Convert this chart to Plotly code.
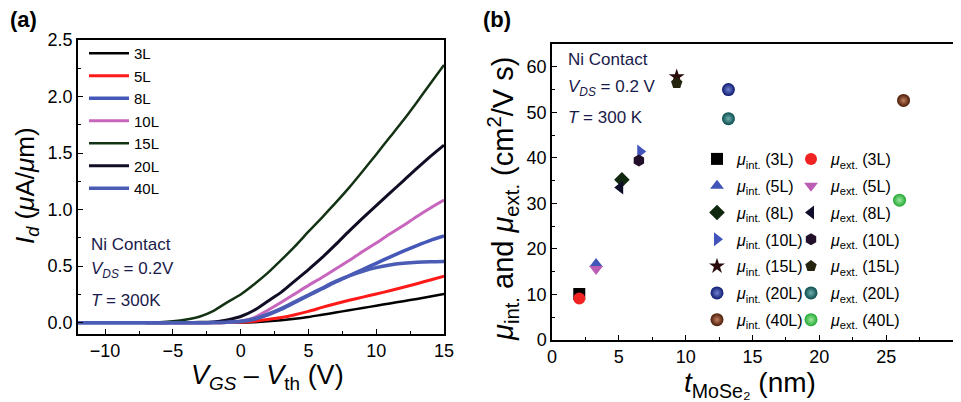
import plotly.graph_objects as go

# ---------------- Panel (a) data: Id (uA/um) vs VGS - Vth (V) ----------------
vgs = [-12, -10, -8, -7, -6, -5, -4, -3, -2, -1, 0, 1, 2, 3, 4, 5, 6, 7, 8, 9, 10, 11, 12, 13, 14, 15]
id_3L = [None, None, None, None, None, None, 0.0, 0.0, 0.0, 0.0, 0.001, 0.005, 0.012, 0.022, 0.035, 0.05,
         0.07, 0.09, 0.11, 0.13, 0.15, 0.17, 0.19, 0.21, 0.232, 0.254]
id_5L = [None, None, None, None, None, 0.0, 0.0, 0.0, 0.0, 0.001, 0.003, 0.013, 0.028, 0.045, 0.07, 0.10,
         0.135, 0.168, 0.198, 0.226, 0.254, 0.283, 0.313, 0.345, 0.378, 0.412]
id_8L = [0.0, 0.0, 0.0, 0.0, 0.0, 0.0, 0.0, 0.0, 0.001, 0.004, 0.01, 0.03, 0.07, 0.12, 0.18, 0.24,
         0.30, 0.36, 0.415, 0.47, 0.525, 0.58, 0.632, 0.682, 0.728, 0.767]
id_10L = [None, None, None, None, 0.0, 0.0, 0.0, 0.0, 0.001, 0.004, 0.012, 0.045, 0.11, 0.18, 0.255, 0.33,
          0.40, 0.475, 0.55, 0.63, 0.705, 0.785, 0.86, 0.94, 1.015, 1.085]
id_15L = [None, None, 0.0, 0.001, 0.004, 0.012, 0.028, 0.055, 0.105, 0.18, 0.25, 0.34, 0.44, 0.555, 0.675, 0.805,
          0.93, 1.06, 1.195, 1.34, 1.488, 1.64, 1.79, 1.95, 2.115, 2.28]
id_20L = [None, None, None, 0.0, 0.0, 0.001, 0.002, 0.003, 0.006, 0.025, 0.055, 0.11, 0.19, 0.27, 0.37, 0.47,
          0.575, 0.69, 0.81, 0.925, 1.035, 1.145, 1.255, 1.365, 1.47, 1.57]
id_40L = [0.0, 0.0, 0.0, 0.0, 0.0, 0.0, 0.0, 0.0, 0.001, 0.005, 0.012, 0.035, 0.075, 0.125, 0.185, 0.245,
          0.305, 0.365, 0.415, 0.455, 0.487, 0.51, 0.525, 0.535, 0.54, 0.542]

curve_names = ["3L", "5L", "8L", "10L", "15L", "20L", "40L"]
curve_values = [id_3L, id_5L, id_8L, id_10L, id_15L, id_20L, id_40L]
curve_colors = ["#000000", "#ff1a1a", "#4558b8", "#c865bd", "#143214", "#110d24", "#4a5cb4"]
curve_widths = [2.5, 3, 3.5, 3, 2.5, 3, 3.5]

# ---------------- Panel (b) data: mobility vs thickness ----------------
layers = ["3L", "5L", "8L", "10L", "15L", "20L", "40L"]
t_int = [2.04, 3.3, 5.23, 6.6, 9.33, 13.2, 26.3]
mu_int = [10.1, 16.7, 35.2, 41.4, 57.8, 55.0, 52.6]
t_ext = [2.04, 3.3, 5.1, 6.5, 9.33, 13.2, 26.0]
mu_ext = [9.1, 15.6, 33.5, 39.4, 56.4, 48.6, 30.7]

int_symbols = ["square", "triangle-up", "diamond", "triangle-right", "star", "circle", "circle"]
int_colors = ["#000000", "#4155b8", "#10280f", "#4254bc", "#2a0c0c", "#0d1a70", "#4a1a06"]
int_centers = [None, None, None, None, None, "#7080d0", "#c08060"]
ext_symbols = ["circle", "triangle-down", "triangle-left", "hexagon", "pentagon", "circle", "circle"]
ext_colors = ["#f02222", "#bb5db3", "#0e0e2a", "#22102a", "#24240f", "#0a4b4b", "#22a832"]
ext_centers = [None, None, None, None, None, "#70b0b0", "#a0e8a0"]

FONT = "Arial, Liberation Sans, sans-serif"
TXT = "#1a1a4a"
OFF = 8                      # page body margin
W, H = 961 - OFF, 402 - OFF


def px_x(p):
    return (p - OFF) / W


def px_y(p):
    return 1 - (p - OFF) / H


fig = go.Figure()

for name, vals, col, lw in zip(curve_names, curve_values, curve_colors, curve_widths):
    fig.add_trace(go.Scatter(
        x=vgs, y=vals, mode="lines", name=name,
        line=dict(color=col, width=lw, shape="spline", smoothing=0.6),
        xaxis="x", yaxis="y", legend="legend",
    ))

for i, lay in enumerate(layers):
    marker = dict(symbol=int_symbols[i], color=int_colors[i], size=12, line=dict(width=0))
    if int_centers[i]:
        marker["size"] = 13
        marker["gradient"] = dict(type="radial", color=int_centers[i])
    fig.add_trace(go.Scatter(
        x=[t_int[i]], y=[mu_int[i]], mode="markers",
        name="<i>μ</i><sub>int.</sub> (" + lay + ")",
        marker=marker, xaxis="x2", yaxis="y2", legend="legend2",
        legendgroup="i" + lay,
    ))

for i, lay in enumerate(layers):
    marker = dict(symbol=ext_symbols[i], color=ext_colors[i], size=12, line=dict(width=0))
    if ext_centers[i]:
        marker["size"] = 13
        marker["gradient"] = dict(type="radial", color=ext_centers[i])
    fig.add_trace(go.Scatter(
        x=[t_ext[i]], y=[mu_ext[i]], mode="markers",
        name="<i>μ</i><sub>ext.</sub> (" + lay + ")",
        marker=marker, xaxis="x2", yaxis="y2", legend="legend3",
        legendgroup="e" + lay,
    ))

axis_common = dict(
    showline=True, linecolor="black", linewidth=1.5, mirror=True,
    ticks="inside", ticklen=5, tickwidth=1.2, tickcolor="black",
    showgrid=False, zeroline=False, automargin=False,
    tickfont=dict(family=FONT, size=18, color="black"),
)

fig.update_layout(
    width=W, height=H, template="none",
    margin=dict(l=0, r=0, t=0, b=0),
    paper_bgcolor="white", plot_bgcolor="white",
    font=dict(family=FONT, color="black"),
    xaxis=dict(domain=[px_x(78), px_x(444)], range=[-12, 15], anchor="y",
               tickvals=[-10, -5, 0, 5, 10, 15],
               minor=dict(ticks="inside", ticklen=3, dtick=2.5, tick0=0, tickcolor="black"),
               **axis_common),
    yaxis=dict(domain=[px_y(334), px_y(40)], range=[-0.1, 2.5], anchor="x",
               tickvals=[0, 0.5, 1.0, 1.5, 2.0, 2.5], tickformat=".1f",
               minor=dict(ticks="inside", ticklen=3, dtick=0.25, tick0=0, tickcolor="black"),
               **axis_common),
    xaxis2=dict(domain=[px_x(552), px_x(953)], range=[0, 30], anchor="y2",
                tickvals=[0, 5, 10, 15, 20, 25, 30],
                minor=dict(ticks="inside", ticklen=3, dtick=2.5, tick0=0, tickcolor="black"),
                **axis_common),
    yaxis2=dict(domain=[px_y(340), px_y(44)], range=[0, 65], anchor="x2",
                tickvals=[0, 10, 20, 30, 40, 50, 60],
                minor=dict(ticks="inside", ticklen=3, dtick=5, tick0=0, tickcolor="black"),
                **axis_common),
    legend=dict(x=px_x(84), y=px_y(37), xanchor="left", yanchor="top",
                bgcolor="rgba(0,0,0,0)", font=dict(family=FONT, size=15, color="black"),
                itemwidth=40, tracegroupgap=0),
    legend2=dict(x=px_x(697), y=px_y(142), xanchor="left", yanchor="top",
                 bgcolor="rgba(0,0,0,0)", font=dict(family=FONT, size=16, color="black"),
                 itemwidth=30, tracegroupgap=3),
    legend3=dict(x=px_x(791), y=px_y(142), xanchor="left", yanchor="top",
                 bgcolor="rgba(0,0,0,0)", font=dict(family=FONT, size=16, color="black"),
                 itemwidth=30, tracegroupgap=3),
    showlegend=True,
)

ann = []


def text(x, y, s, size=17, color=TXT, xanchor="left", angle=0):
    ann.append(dict(x=px_x(x), y=px_y(y), xref="paper", yref="paper", text=s,
                    showarrow=False, xanchor=xanchor, yanchor="middle",
                    textangle=angle, font=dict(family=FONT, size=size, color=color)))


# panel labels
text(8, 19, "<b>(a)</b>", size=22, color="black")
text(481, 19, "<b>(b)</b>", size=22, color="black")
# condition notes
text(89, 244, "Ni Contact")
text(89, 270, "<i>V</i><sub><i>DS</i></sub> = 0.2V")
text(89, 300, "<i>T</i> = 300K")
text(566, 60, "Ni Contact")
text(566, 88, "<i>V</i><sub><i>DS</i></sub> = 0.2 V")
text(566, 117, "<i>T</i> = 300 K")
# axis titles
text(267, 377, "<i>V</i><sub><i>GS</i></sub> – <i>V</i><sub>th</sub> (V)", size=27, color="black", xanchor="center")
text(26, 186, "<i>I<sub>d</sub></i> (<i>μ</i>A/<i>μ</i>m)", size=26, color="black", xanchor="center", angle=-90)
text(750, 384, "<i>t</i><sub>MoSe₂</sub> (nm)", size=28, color="black", xanchor="center")
text(503, 199, "<i>μ</i><sub>int.</sub> and <i>μ</i><sub>ext.</sub> (cm<sup>2</sup>/V s)", size=29, color="black", xanchor="center", angle=-90)

fig.update_layout(annotations=ann)

fig.write_html("out.html")
